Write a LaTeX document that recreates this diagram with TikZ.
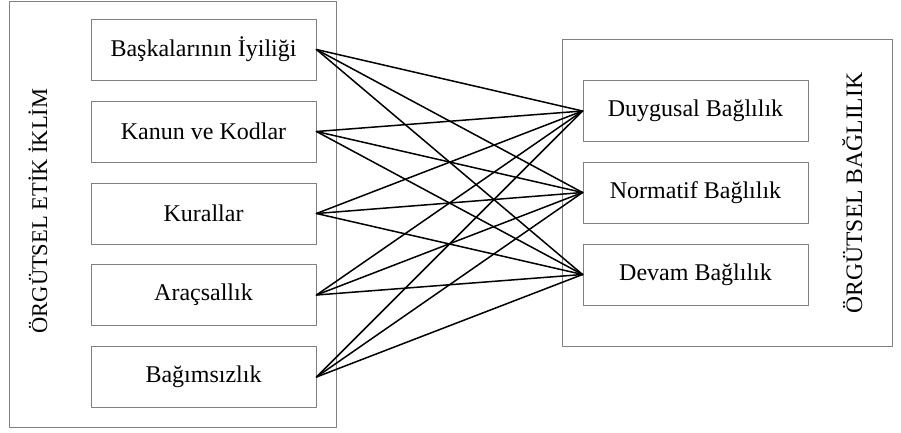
\documentclass[tikz,border=0pt]{standalone}
\usepackage{fontspec}
\setmainfont{Liberation Serif}
\tikzset{kutu/.style={draw=gray, line width=0.9pt, minimum width=225pt, minimum height=61pt, inner sep=0pt},
	cizgi/.style={black, line width=1.5pt},
	yanyazi/.style={rotate=90, anchor=base, font=\fontsize{22.5}{27}\selectfont}}
\begin{document}
\begin{tikzpicture}[x=1pt, y=-1pt, font=\fontsize{24}{28}\selectfont, line join=round, line cap=round]
	\useasboundingbox (0,0) rectangle (901,432);
	\draw[gray, line width=0.9pt] (9,1) rectangle (336,427);
	\draw[gray, line width=0.9pt] (562,39) rectangle (892,346);
	\node[yanyazi] (iklim) at (47,211) {ÖRGÜTSEL ETİK İKLİM};
	\node[yanyazi, font=\fontsize{23.6}{28}\selectfont] (baglilik) at (862,193) {ÖRGÜTSEL BAĞLILIK};
	% sol kutular
	\node[kutu] (b1) at (203.5,49.5) {Başkalarının İyiliği};
	\node[kutu] (b2) at (203.5,131.5) {Kanun ve Kodlar};
	\node[kutu] (b3) at (203.5,213.5) {Kurallar};
	\node[kutu] (b4) at (203.5,295) {Araçsallık};
	\node[kutu] (b5) at (203.5,377) {Bağımsızlık};
	% sag kutular
	\node[kutu] (d1) at (695.5,111) {Duygusal Bağlılık};
	\node[kutu] (d2) at (695.5,192.5) {Normatif Bağlılık};
	\node[kutu] (d3) at (695.5,274.5) {Devam Bağlılık};
	\foreach \i in {1,...,5}
		\foreach \j in {1,2,3}
			\draw[cizgi] (b\i.east) -- (d\j.west);
\end{tikzpicture}
\end{document}
